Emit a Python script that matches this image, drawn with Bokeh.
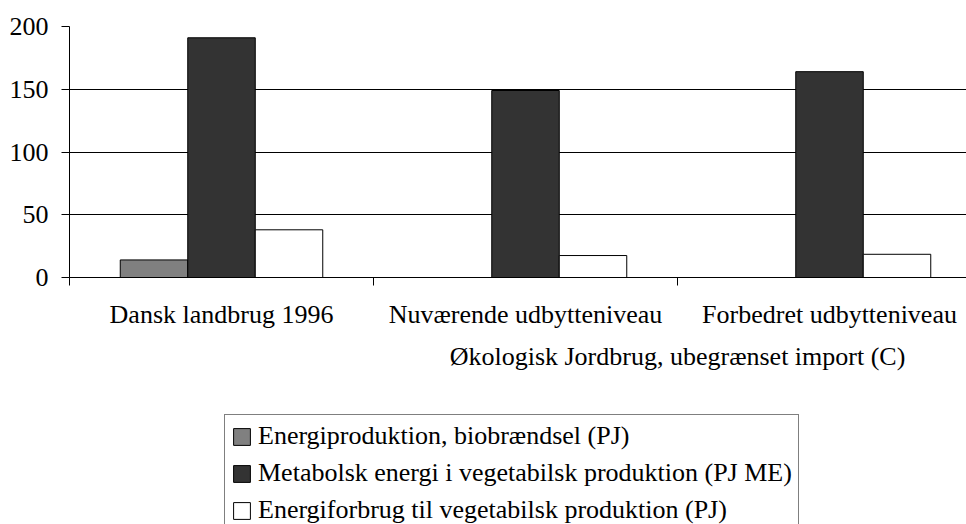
from bokeh.plotting import figure
from bokeh.layouts import column
from bokeh.models import (Range1d, FixedTicker, LinearAxis, Legend, LegendItem,
                          ColumnDataSource)
from bokeh.transform import dodge
from bokeh.embed import file_html
from bokeh.resources import INLINE

# ---- data ----
categories = ["Dansk landbrug 1996", "Nuværende udbytteniveau", "Forbedret udbytteniveau"]
group_label = "Økologisk Jordbrug, ubegrænset import (C)"
series_names = ["Energiproduktion, biobrændsel (PJ)",
                "Metabolsk energi i vegetabilsk produktion (PJ ME)",
                "Energiforbrug til vegetabilsk produktion (PJ)"]
biobraendsel = [14, 0, 0]
metabolsk = [191, 149, 164]
energiforbrug = [38, 17.5, 18.5]
y_ticks = [0, 50, 100, 150, 200]
colors = ["#808080", "#333333", "#ffffff"]

FONT = "Liberation Serif, Times New Roman, serif"
FS = "26px"

x = [i + 0.5 for i in range(len(categories))]
boundaries = [float(i) for i in range(len(categories) + 1)]
group_pos = (x[1] + x[2]) / 2
fields = ["bio", "met", "forb"]

src = ColumnDataSource(dict(x=x, bio=biobraendsel, met=metabolsk, forb=energiforbrug))

W = 966
H1, H2 = 400, 124
left, top, bottom = 69, 26, 277
cat_px = 304
p = figure(width=W, height=H1, output_backend="svg", toolbar_location=None,
           x_range=Range1d(0, (W - left) / cat_px), y_range=Range1d(0, 200),
           min_border_left=left, min_border_right=0, min_border_top=top,
           min_border_bottom=H1 - bottom)
p.outline_line_color = None
p.background_fill_color = "white"

bw = 67.5 / cat_px
offsets = [-bw, 0.0, bw]
for f, off, c in zip(fields, offsets, colors):
    p.vbar(x=dodge("x", off, range=p.x_range), top=f, width=bw, source=src,
           fill_color=c, line_color="black", line_width=1)

# y axis
p.yaxis.ticker = FixedTicker(ticks=y_ticks)
p.yaxis.major_tick_out = 8
p.yaxis.major_tick_in = 0
p.yaxis.minor_tick_line_color = None
p.yaxis.major_label_text_font = FONT
p.yaxis.major_label_text_font_size = FS
p.yaxis.major_label_text_color = "black"
p.yaxis.major_label_standoff = 13
p.yaxis.axis_line_color = "black"
p.yaxis.major_tick_line_color = "black"

p.xgrid.visible = False
p.ygrid.ticker = FixedTicker(ticks=y_ticks)
p.ygrid.grid_line_color = "black"

# x axis: labels at category centres, separator ticks at boundaries
p.xaxis.ticker = FixedTicker(ticks=x, minor_ticks=boundaries)
p.xaxis.major_label_overrides = {xv: c for xv, c in zip(x, categories)}
p.xaxis.major_tick_line_color = None
p.xaxis.major_tick_out = 0
p.xaxis.major_tick_in = 0
p.xaxis.minor_tick_line_color = "black"
p.xaxis.minor_tick_out = 8
p.xaxis.minor_tick_in = 0
p.xaxis.major_label_text_font = FONT
p.xaxis.major_label_text_font_size = FS
p.xaxis.major_label_text_color = "black"
p.xaxis.major_label_standoff = 14
p.xaxis.axis_line_color = "black"

# group label
ax3 = LinearAxis(ticker=FixedTicker(ticks=[group_pos]),
                 major_label_overrides={group_pos: group_label},
                 axis_line_color=None, major_tick_line_color=None,
                 minor_tick_line_color=None, major_tick_out=0, major_tick_in=0,
                 major_label_text_font=FONT, major_label_text_font_size=FS,
                 major_label_text_color="black", major_label_standoff=10)
p.add_layout(ax3, "below")

# ---- legend panel (same series, drawn outside its view; only the legend shows) ----
p2 = figure(width=W, height=H2, output_backend="svg", toolbar_location=None,
            x_range=Range1d(-20, -19), y_range=Range1d(-20, -19),
            x_axis_location=None, y_axis_location=None, min_border=0)
p2.outline_line_color = None
p2.grid.visible = False
keys = []
for f, c in zip(fields, colors):
    keys.append(p2.vbar(x="x", top=f, width=bw, source=src,
                        fill_color=c, line_color="black", line_width=1))

pad, row_h, spc = 6, 30, 7
leg_h = 2 * pad + 3 * row_h + 2 * spc
leg_top = 16
legend = Legend(items=[LegendItem(label=n, renderers=[k]) for n, k in zip(series_names, keys)],
                location=(155, H2 - leg_top - leg_h), orientation="vertical",
                label_text_font=FONT, label_text_font_size=FS,
                label_text_color="black",
                glyph_width=21, glyph_height=21, label_height=row_h,
                spacing=spc, padding=pad, label_standoff=6, margin=0,
                border_line_color="black", border_line_width=1,
                background_fill_color="white", background_fill_alpha=1)
p2.add_layout(legend)

layout = column(p, p2, spacing=0)
open("out.html", "w").write(file_html(layout, INLINE))
